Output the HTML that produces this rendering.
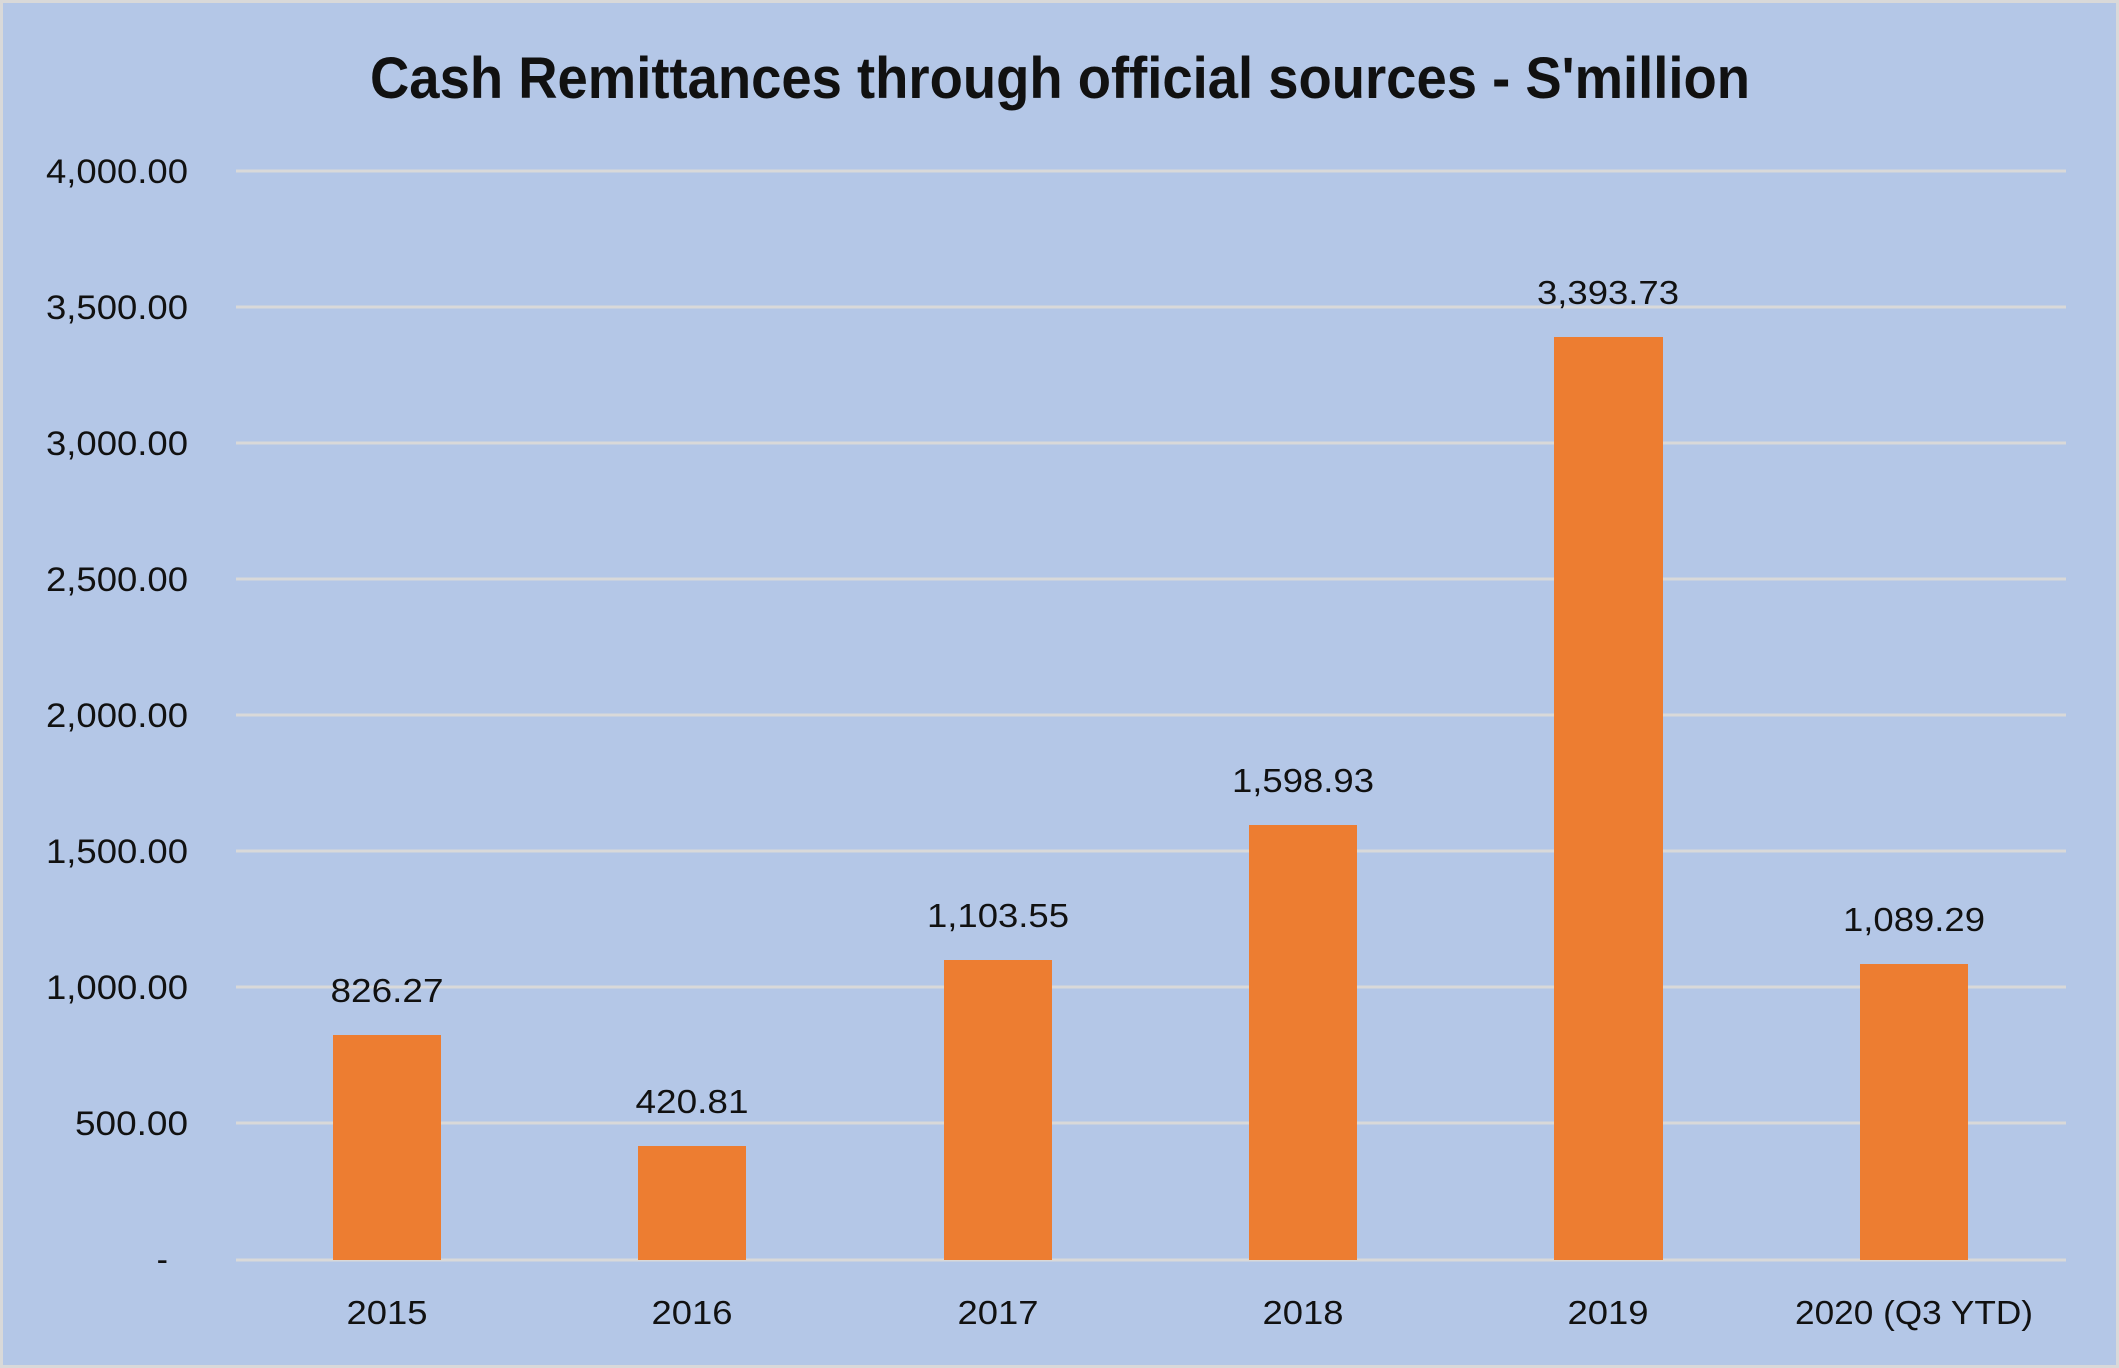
<!DOCTYPE html>
<html><head><meta charset="utf-8"><style>
html,body{margin:0;padding:0;background:#D9D9D9;}
svg{display:block;}
</style></head><body>
<svg width="2119" height="1368" xmlns="http://www.w3.org/2000/svg" font-family="'Liberation Sans', sans-serif">
<rect x="0" y="0" width="2119" height="1368" fill="#D9D9D9"/>
<rect x="3" y="3" width="2113" height="1362" fill="#B4C7E7"/>
<text x="1060" y="98" text-anchor="middle" font-size="58" font-weight="bold" fill="#111" textLength="1380" lengthAdjust="spacingAndGlyphs">Cash Remittances through official sources - S'million</text>
<g stroke="#D9D9D9" stroke-width="3">
<line x1="236" y1="171" x2="2066" y2="171"/>
<line x1="236" y1="307" x2="2066" y2="307"/>
<line x1="236" y1="443" x2="2066" y2="443"/>
<line x1="236" y1="579" x2="2066" y2="579"/>
<line x1="236" y1="715" x2="2066" y2="715"/>
<line x1="236" y1="851" x2="2066" y2="851"/>
<line x1="236" y1="987" x2="2066" y2="987"/>
<line x1="236" y1="1123" x2="2066" y2="1123"/>
<line x1="236" y1="1260" x2="2066" y2="1260"/>
</g>
<g font-size="34" fill="#111" text-anchor="end">
<text x="188" y="183" textLength="142" lengthAdjust="spacingAndGlyphs">4,000.00</text>
<text x="188" y="319" textLength="142" lengthAdjust="spacingAndGlyphs">3,500.00</text>
<text x="188" y="455" textLength="142" lengthAdjust="spacingAndGlyphs">3,000.00</text>
<text x="188" y="591" textLength="142" lengthAdjust="spacingAndGlyphs">2,500.00</text>
<text x="188" y="727" textLength="142" lengthAdjust="spacingAndGlyphs">2,000.00</text>
<text x="188" y="863" textLength="142" lengthAdjust="spacingAndGlyphs">1,500.00</text>
<text x="188" y="999" textLength="142" lengthAdjust="spacingAndGlyphs">1,000.00</text>
<text x="188" y="1135" textLength="113" lengthAdjust="spacingAndGlyphs">500.00</text>
<text x="168" y="1271">-</text>
</g>
<g fill="#ED7D31">
<rect x="333" y="1035" width="108" height="225"/>
<rect x="638" y="1146" width="108" height="114"/>
<rect x="944" y="960" width="108" height="300"/>
<rect x="1249" y="825" width="108" height="435"/>
<rect x="1554" y="337" width="109" height="923"/>
<rect x="1860" y="964" width="108" height="296"/>
</g>
<g font-size="33" fill="#111" text-anchor="middle">
<text x="387" y="1002" textLength="113" lengthAdjust="spacingAndGlyphs">826.27</text>
<text x="692" y="1113" textLength="113" lengthAdjust="spacingAndGlyphs">420.81</text>
<text x="998" y="927" textLength="142" lengthAdjust="spacingAndGlyphs">1,103.55</text>
<text x="1303" y="792" textLength="142" lengthAdjust="spacingAndGlyphs">1,598.93</text>
<text x="1608" y="304" textLength="142" lengthAdjust="spacingAndGlyphs">3,393.73</text>
<text x="1914" y="931" textLength="142" lengthAdjust="spacingAndGlyphs">1,089.29</text>
</g>
<g font-size="33" fill="#111" text-anchor="middle">
<text x="387" y="1324" textLength="81" lengthAdjust="spacingAndGlyphs">2015</text>
<text x="692" y="1324" textLength="81" lengthAdjust="spacingAndGlyphs">2016</text>
<text x="998" y="1324" textLength="81" lengthAdjust="spacingAndGlyphs">2017</text>
<text x="1303" y="1324" textLength="81" lengthAdjust="spacingAndGlyphs">2018</text>
<text x="1608" y="1324" textLength="81" lengthAdjust="spacingAndGlyphs">2019</text>
<text x="1914" y="1324" textLength="238" lengthAdjust="spacingAndGlyphs">2020 (Q3 YTD)</text>
</g>
</svg>
</body></html>
